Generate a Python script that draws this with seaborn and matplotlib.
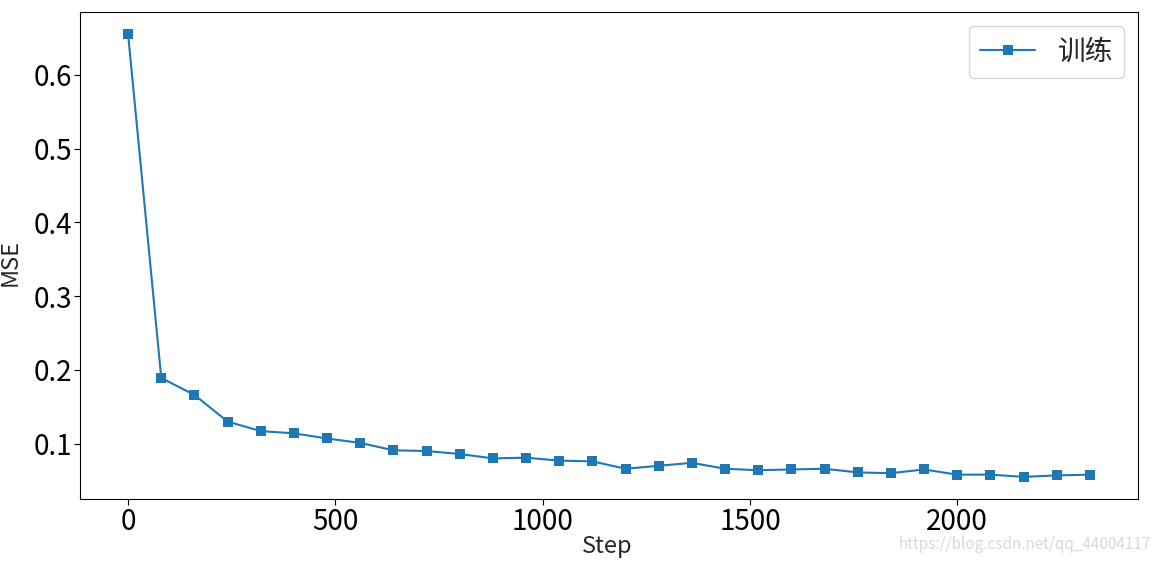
import matplotlib
matplotlib.use("Agg")
import matplotlib.pyplot as plt
import seaborn as sns
import pandas as pd

steps = list(range(0, 2321, 80))
mse = [0.655, 0.189, 0.166, 0.130, 0.117, 0.114, 0.107, 0.101, 0.091, 0.090,
       0.086, 0.080, 0.081, 0.077, 0.076, 0.066, 0.070, 0.074, 0.066, 0.064,
       0.065, 0.066, 0.061, 0.060, 0.065, 0.058, 0.058, 0.055, 0.057, 0.058]
series_name = "训练"

sns.set_style("ticks")
plt.rcParams['font.family'] = ['Noto Sans CJK SC', 'DejaVu Sans']
plt.rcParams['axes.unicode_minus'] = False

df = pd.DataFrame({"Step": steps, "MSE": mse, "series": series_name})

fig = plt.figure(figsize=(11.6, 5.61), dpi=100)
ax = fig.add_axes([80/1160, 1 - 499/561, (1138-80)/1160, (499-12)/561])
sns.lineplot(data=df, x="Step", y="MSE", hue="series", marker="s", markersize=7,
             markeredgewidth=0, palette=["#1f77b4"], ax=ax, linewidth=1.5)
for s in ax.spines.values():
    s.set_visible(True)
    s.set_color("black")
    s.set_linewidth(0.8)
ax.tick_params(labelsize=20, direction="out", length=4, colors="black", pad=2)
ax.set_xlabel("Step", fontsize=17, fontweight="medium")
ax.set_ylabel("MSE", fontsize=17, fontweight="medium")
ax.xaxis.set_label_coords((607-80)/1058, -(547-499)/487)
ax.yaxis.set_label_coords(-(80-10)/1058, (499-262)/487)
ax.xaxis.label.set_va("center")
ax.yaxis.label.set_va("center")
ax.set_yticks([0.1, 0.2, 0.3, 0.4, 0.5, 0.6])
ax.set_xticks([0, 500, 1000, 1500, 2000])
leg = ax.legend(fontsize=20, loc="upper right", frameon=True)
fig.text(0.992, 0.015, "https://blog.csdn.net/qq_44004117", ha="right", va="bottom",
         fontsize=11, color="#d8d8d8")
fig.savefig("out.png", dpi=100)
